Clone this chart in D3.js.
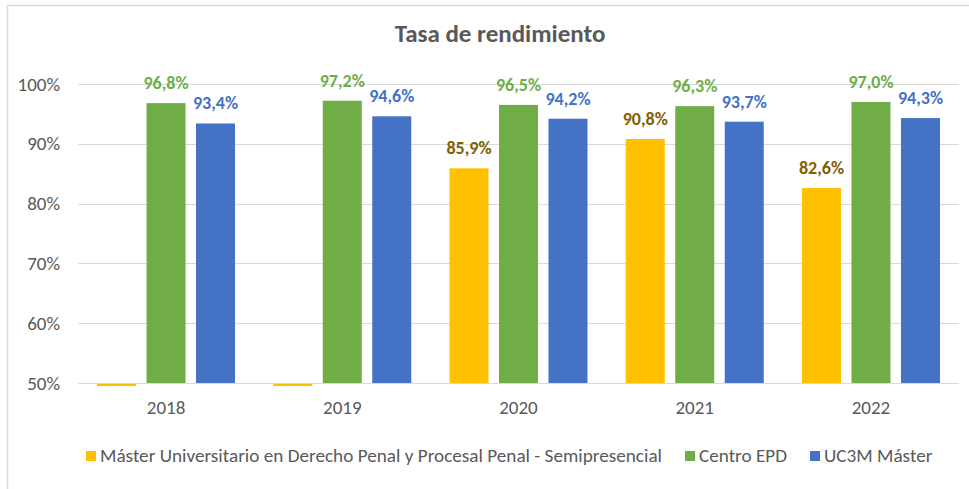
<!DOCTYPE html>
<html>
<head>
<meta charset="utf-8">
<script src="https://cdn.jsdelivr.net/npm/d3@7"></script>
<style>
  html, body { margin: 0; padding: 0; background: #fff; }
  svg { display: block; font-family: Carlito, Lato, "Open Sans", sans-serif; }
</style>
</head>
<body>
<svg id="chart" width="969" height="489"></svg>
<script>
// ---- data ----
const title = "Tasa de rendimiento";
const years = ["2018", "2019", "2020", "2021", "2022"];
const seriesNames = [
  "Máster Universitario en Derecho Penal y Procesal Penal - Semipresencial",
  "Centro EPD",
  "UC3M Máster"
];
const masterValues = [0, 0, 0.859, 0.908, 0.826];
const centroValues = [0.968, 0.972, 0.965, 0.963, 0.970];
const uc3mValues   = [0.934, 0.946, 0.942, 0.937, 0.943];
const yTicks = [0.5, 0.6, 0.7, 0.8, 0.9, 1.0];

const barColors   = ["#FFC000", "#70AD47", "#4472C4"];
const labelColors = ["#806000", "#70AD47", "#4472C4"];

// ---- build ----
const svg = d3.select("#chart");
const W = 969, H = 489;
const plot = { left: 78, right: 959, top: 84, bottom: 383 };
const FONT = "Carlito, Lato, 'Open Sans', sans-serif";

const seriesValues = [masterValues, centroValues, uc3mValues];
const keys = d3.range(seriesNames.length);

const es = d3.formatLocale({ decimal: ",", thousands: ".", grouping: [3], currency: ["", "€"] });
const fmtLabel = es.format(".1%");
const fmtTick = es.format(".0%");

// border
svg.append("rect")
  .attr("x", 7.5).attr("y", 5.5)
  .attr("width", W + 20).attr("height", H + 20)
  .attr("fill", "none").attr("stroke", "#D9D9D9").attr("stroke-width", 1.5);

const x0 = d3.scaleBand().domain(years).range([plot.left, plot.right])
  .paddingInner(0.217).paddingOuter(0.108);
const x1 = d3.scaleBand().domain(keys).range([0, x0.bandwidth()]).paddingInner(0.212);
const y = d3.scaleLinear().domain([0.5, 1.0]).range([plot.bottom, plot.top]);

// gridlines
svg.append("g").selectAll("line").data(yTicks).join("line")
  .attr("x1", plot.left).attr("x2", plot.right)
  .attr("y1", d => Math.round(y(d)) + 0.5).attr("y2", d => Math.round(y(d)) + 0.5)
  .attr("stroke", "#D9D9D9").attr("stroke-width", 1);

// y axis labels
const yAxis = d3.axisLeft(y).tickValues(yTicks).tickFormat(fmtTick).tickSize(0).tickPadding(0);
const gy = svg.append("g").attr("transform", `translate(${plot.left - 18},0)`).call(yAxis);
gy.select(".domain").remove();
gy.selectAll("text").attr("fill", "#595959").attr("font-size", 19).attr("font-family", FONT);

// x axis labels
const xAxis = d3.axisBottom(x0).tickSize(0).tickPadding(0);
const gx = svg.append("g").attr("transform", `translate(0,${plot.bottom + 17})`).call(xAxis);
gx.select(".domain").remove();
gx.selectAll("text").attr("fill", "#595959").attr("font-size", 19)
  .attr("dy", "0.71em").attr("font-family", FONT);

// bars
const groups = svg.append("g").selectAll("g").data(years).join("g")
  .attr("transform", d => `translate(${x0(d)},0)`);

groups.each(function(yr, i) {
  const g = d3.select(this);
  keys.forEach(k => {
    const v = seriesValues[k][i];
    if (v == null) return;
    if (v < y.domain()[0]) {
      // value below axis minimum: thin sliver under the axis
      g.append("rect")
        .attr("x", x1(k)).attr("width", x1.bandwidth())
        .attr("y", plot.bottom + 1).attr("height", 2)
        .attr("fill", barColors[k]);
      return;
    }
    g.append("rect")
      .attr("x", x1(k)).attr("width", x1.bandwidth())
      .attr("y", y(v)).attr("height", y(y.domain()[0]) - y(v))
      .attr("fill", barColors[k]);
    g.append("text")
      .attr("x", x1(k) + x1.bandwidth() / 2)
      .attr("y", y(v) - 14)
      .attr("text-anchor", "middle")
      .attr("font-weight", "bold").attr("font-size", 18)
      .attr("fill", labelColors[k])
      .text(fmtLabel(v));
  });
});

// title
svg.append("text")
  .attr("x", 500).attr("y", 42)
  .attr("text-anchor", "middle")
  .attr("font-weight", "bold").attr("font-size", 25)
  .attr("fill", "#595959")
  .text(title);

// legend
const legend = svg.append("g").attr("transform", "translate(86,0)");
let lx = 0;
keys.forEach(k => {
  const it = legend.append("g").attr("transform", `translate(${lx},0)`);
  it.append("rect").attr("x", 0).attr("y", 451).attr("width", 10).attr("height", 10)
    .attr("fill", barColors[k]);
  const t = it.append("text").attr("x", 14).attr("y", 462)
    .attr("font-size", 19.2).attr("fill", "#595959").text(seriesNames[k]);
  lx += 14 + t.node().getComputedTextLength() + 23;
});
</script>
</body>
</html>
